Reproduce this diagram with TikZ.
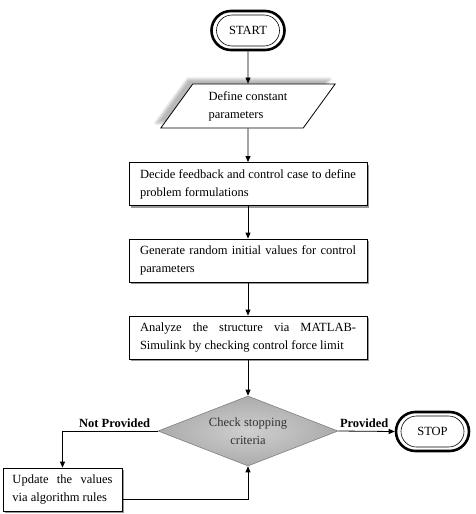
\documentclass[tikz,border=0pt]{standalone}
\usepackage{fontspec}
\setmainfont{Liberation Serif}
\usetikzlibrary{arrows.meta, shapes.geometric, shapes.misc, shadows, shadows.blur}

\begin{document}
\begin{tikzpicture}[x=1pt, y=-1pt, font=\fontsize{12.5}{18}\selectfont,
    termframe/.style={rounded rectangle, draw=black, line width=2.6pt, minimum width=73pt, minimum height=39pt, inner sep=0pt},
    term/.style={rounded rectangle, draw=black, line width=0.6pt, fill=white, minimum width=65pt, minimum height=31pt, inner sep=1pt},
    proc/.style={rectangle, draw=black, line width=0.8pt, fill=white, text width=216pt, align=justify, inner xsep=11pt, inner ysep=5pt, minimum height=43pt,
        drop shadow={shadow xshift=2pt, shadow yshift=-2pt, fill=black!40, opacity=1}},
    io/.style={trapezium, trapezium left angle=54, trapezium right angle=126, draw=black, line width=0.8pt, fill=white, align=left,
        minimum width=156pt, minimum height=44pt, inner xsep=6pt,
        blur shadow={shadow xshift=-5pt, shadow yshift=5pt, shadow blur radius=2.5pt, shadow opacity=28}},
    decision/.style={diamond, aspect=2.57, minimum width=180pt, minimum height=70pt, inner sep=0pt, align=center, text=black!80,
        draw=black!50, line width=0.6pt, shade, inner color=gray!38, outer color=gray!66},
    lbl/.style={font=\fontsize{12.5}{18}\selectfont\bfseries, inner sep=1.5pt},
    arr/.style={draw=black, line width=0.8pt, -{Triangle[length=6pt, width=5pt]}}]

\useasboundingbox (0,0) rectangle (475,514);

\node[termframe] (startf) at (248,30.5) {};
\node[term] (start) at (248,30.5) {START};

\node[io] (def) at (248,106) {Define constant\\parameters};

\node[proc] (dec) at (248,184) {Decide feedback and control case to define problem formulations};
\node[proc] (gen) at (248,260.5) {Generate random initial values for control parameters};
\node[proc] (ana) at (248,337.5) {Analyze the structure via MATLAB-Simulink by checking control force limit};

\node[decision] (chk) at (248,431) {Check stopping\\criteria};

\node[termframe] (stopf) at (432.5,431.5) {};
\node[term] (stop) at (432.5,431.5) {STOP};

\node[proc, text width=100pt, inner xsep=9.5pt] (upd) at (62.5,489.5) {Update the values via algorithm rules};

\node[lbl, anchor=south east] (notprov) at ([xshift=-6pt, yshift=2pt]chk.west) {Not Provided};
\node[lbl, anchor=south west] (prov) at ([yshift=2pt]chk.east) {Provided};

\draw[arr] (startf.south) -- (def.north);
\draw[arr] (def.south) -- (dec.north);
\draw[arr] (dec.south) -- (gen.north);
\draw[arr] (gen.south) -- (ana.north);
\draw[arr] (ana.south) -- (chk.north);
\draw[arr] (chk.east) -- (stopf.west);
\draw[arr] (chk.west) -| (upd.north);
\draw[arr] ([yshift=-10pt]upd.east) -| (chk.south);

\end{tikzpicture}
\end{document}
